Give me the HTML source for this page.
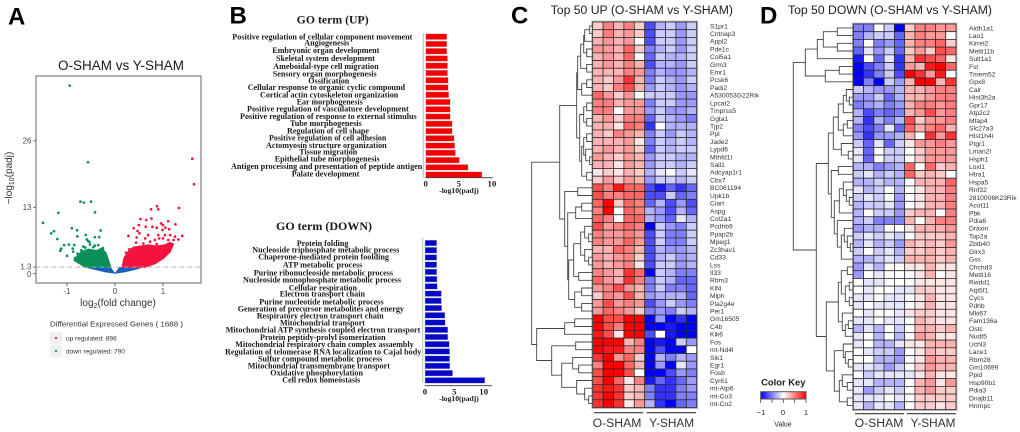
<!DOCTYPE html>
<html><head><meta charset="utf-8"><title>Differential expression figure</title>
<style>
html,body{margin:0;padding:0;background:#fff;width:1020px;height:432px;overflow:hidden}
svg{display:block;filter:blur(0.3px)}
text{font-family:"Liberation Sans",sans-serif}
.go text,.go{font-family:"Liberation Serif",serif;font-weight:bold;font-size:8.8px;fill:#1a1a1a}
.go text{font-family:"Liberation Serif",serif}
.letter{font-weight:bold;font-size:24px;fill:#000}
</style></head><body>
<svg id="fig" xmlns="http://www.w3.org/2000/svg" width="1020" height="432" viewBox="0 0 1020 432">
<defs><linearGradient id="keyGrad" x1="0" x2="1" y1="0" y2="0"><stop offset="0" stop-color="#0000ff"/><stop offset=".5" stop-color="#ffffff"/><stop offset="1" stop-color="#ff0000"/></linearGradient></defs>
<text class="letter" x="8" y="24.5">A</text>
<text class="letter" x="229.5" y="23.5">B</text>
<text class="letter" x="511" y="23.5">C</text>
<text class="letter" x="760" y="23.5">D</text>

<g>
<text x="121" y="70" text-anchor="middle" font-size="13.5" fill="#1a1a1a">O-SHAM vs Y-SHAM</text>
<g id="volcano"></g>
<rect x="36" y="76" width="165" height="207" fill="none" stroke="#666" stroke-width="1"/>
<g id="volcanoAxes"></g>
<text x="118" y="306" text-anchor="middle" font-size="10" fill="#333">log<tspan font-size="7" dy="2">2</tspan><tspan dy="-2">(fold change)</tspan></text>
<text transform="translate(12,178) rotate(-90)" text-anchor="middle" font-size="10" fill="#333">−log<tspan font-size="7" dy="2">10</tspan><tspan dy="-2">(padj)</tspan></text>
<g>
<text x="50" y="326.7" font-size="7.4" fill="#333" textLength="133" lengthAdjust="spacingAndGlyphs">Differential Expressed Genes ( 1688 )</text>
<rect x="50" y="332" width="12" height="12" fill="#f0f0f0"/>
<circle cx="56" cy="338" r="1.1" fill="#f5123c"/>
<text x="66" y="340.7" font-size="6.5" fill="#333">up regulated: 898</text>
<rect x="50" y="345" width="12" height="12" fill="#f0f0f0"/>
<circle cx="56" cy="351" r="1.1" fill="#0b8f5a"/>
<text x="66" y="353.3" font-size="6.5" fill="#333">down regulated: 790</text>
</g>
</g>

<g class="go">
<text x="296.7" y="23.5" textLength="72" lengthAdjust="spacingAndGlyphs" style="font-size:11.5px">GO term (UP)</text>
<g>
<text x="232.3" y="39.4" textLength="180" lengthAdjust="spacingAndGlyphs">Positive regulation of cellular component movement</text>
<text x="304.3" y="45.7" textLength="45" lengthAdjust="spacingAndGlyphs">Angiogenesis</text>
<text x="272.3" y="53" textLength="107" lengthAdjust="spacingAndGlyphs">Embryonic organ development</text>
<text x="276" y="61" textLength="99" lengthAdjust="spacingAndGlyphs">Skeletal system development</text>
<text x="273.3" y="69" textLength="105.3" lengthAdjust="spacingAndGlyphs">Ameboidal-type cell migration</text>
<text x="272.7" y="76.4" textLength="104" lengthAdjust="spacingAndGlyphs">Sensory organ morphogenesis</text>
<text x="308.3" y="83.7" textLength="41" lengthAdjust="spacingAndGlyphs">Ossification</text>
<text x="247.7" y="90" textLength="157.3" lengthAdjust="spacingAndGlyphs">Cellular response to organic cyclic compound</text>
<text x="260" y="97.7" textLength="138.3" lengthAdjust="spacingAndGlyphs">Cortical actin cytoskeleton organization</text>
<text x="296.7" y="104.4" textLength="66" lengthAdjust="spacingAndGlyphs">Ear morphogenesis</text>
<text x="247" y="111.7" textLength="161.7" lengthAdjust="spacingAndGlyphs">Positive regulation of vasculature development</text>
<text x="240" y="119" textLength="176.7" lengthAdjust="spacingAndGlyphs">Positive regulation of response to external stimulus</text>
<text x="290" y="126" textLength="71.7" lengthAdjust="spacingAndGlyphs">Tube morphogenesis</text>
<text x="287" y="133.7" textLength="82" lengthAdjust="spacingAndGlyphs">Regulation of cell shape</text>
<text x="269" y="140.4" textLength="117.3" lengthAdjust="spacingAndGlyphs">Positive regulation of cell adhesion</text>
<text x="266" y="148" textLength="120.7" lengthAdjust="spacingAndGlyphs">Actomyosin structure organization</text>
<text x="299.3" y="154.7" textLength="58" lengthAdjust="spacingAndGlyphs">Tissue migration</text>
<text x="274.7" y="161.7" textLength="105" lengthAdjust="spacingAndGlyphs">Epithelial tube morphogenesis</text>
<text x="231" y="169" textLength="191.3" lengthAdjust="spacingAndGlyphs">Antigen processing and presentation of peptide antigen</text>
<text x="291.7" y="176.4" textLength="67.7" lengthAdjust="spacingAndGlyphs">Palate development</text>
</g>
<g id="goUpBars"></g>
</g>

<g class="go">
<text x="276" y="230" textLength="96" lengthAdjust="spacingAndGlyphs" style="font-size:11.5px">GO term (DOWN)</text>
<g>
<text x="296.7" y="246" textLength="51.7" lengthAdjust="spacingAndGlyphs">Protein folding</text>
<text x="252.3" y="252.4" textLength="147" lengthAdjust="spacingAndGlyphs">Nucleoside triphosphate metabolic process</text>
<text x="258.3" y="259.7" textLength="130.7" lengthAdjust="spacingAndGlyphs">Chaperone-mediated protein foolding</text>
<text x="282.7" y="267.7" textLength="79.7" lengthAdjust="spacingAndGlyphs">ATP metabolic process</text>
<text x="253.7" y="275.4" textLength="139.3" lengthAdjust="spacingAndGlyphs">Purine ribonucleoside metabolic process</text>
<text x="243" y="282.7" textLength="158" lengthAdjust="spacingAndGlyphs">Nucleoside monophosphate metabolic process</text>
<text x="288.7" y="290.4" textLength="68.3" lengthAdjust="spacingAndGlyphs">Cellular respiration</text>
<text x="279.7" y="296.7" textLength="85.3" lengthAdjust="spacingAndGlyphs">Electron transport chain</text>
<text x="259.3" y="304.7" textLength="124.3" lengthAdjust="spacingAndGlyphs">Purine nucleotide metabolic process</text>
<text x="237.7" y="311.4" textLength="166.3" lengthAdjust="spacingAndGlyphs">Generation of precursor metabolites and energy</text>
<text x="256.7" y="318.4" textLength="127" lengthAdjust="spacingAndGlyphs">Respiratory electron transport chain</text>
<text x="280" y="325.7" textLength="85" lengthAdjust="spacingAndGlyphs">Mitochondrial transport</text>
<text x="225.7" y="332.7" textLength="194.7" lengthAdjust="spacingAndGlyphs">Mitochondrial ATP synthesis coupled electron transport</text>
<text x="260" y="340" textLength="125.7" lengthAdjust="spacingAndGlyphs">Protein peptidy-prolyl isomerization</text>
<text x="235.3" y="347" textLength="178.3" lengthAdjust="spacingAndGlyphs">Mitochondrial respiratory chain complex assaembly</text>
<text x="225" y="354.4" textLength="196.3" lengthAdjust="spacingAndGlyphs">Regulation of telomerase RNA localization to Cajal body</text>
<text x="258" y="361.4" textLength="124.3" lengthAdjust="spacingAndGlyphs">Sulfur compound metabolic process</text>
<text x="247.7" y="368.4" textLength="142.3" lengthAdjust="spacingAndGlyphs">Mitochondrial transmembrane transport</text>
<text x="270.3" y="375.4" textLength="92.7" lengthAdjust="spacingAndGlyphs">Oxidative phosphorylation</text>
<text x="282.3" y="382.7" textLength="78" lengthAdjust="spacingAndGlyphs">Cell redox homeostasis</text>
</g>
<g id="goDownBars"></g>
</g>

<g>
<text x="550.7" y="14" font-size="11.5" fill="#222" textLength="182.3" lengthAdjust="spacingAndGlyphs">Top 50 UP (O-SHAM vs Y-SHAM)</text>
<g id="heatC"></g>
<g id="treeC"></g>
<g id="genesC"></g>
<line x1="594" x2="643" y1="412.7" y2="412.7" stroke="#333" stroke-width="1.2"/>
<line x1="646.7" x2="696" y1="412.7" y2="412.7" stroke="#333" stroke-width="1.2"/>
<text x="617" y="427" text-anchor="middle" font-size="12.2" fill="#333">O-SHAM</text>
<text x="671.7" y="427" text-anchor="middle" font-size="11.8" fill="#333">Y-SHAM</text>
</g>

<g>
<text x="788" y="14" font-size="11.5" fill="#222" textLength="204" lengthAdjust="spacingAndGlyphs">Top 50 DOWN (O-SHAM vs Y-SHAM)</text>
<g id="heatD"></g>
<g id="treeD"></g>
<g id="genesD"></g>
<line x1="855" x2="904" y1="413.7" y2="413.7" stroke="#333" stroke-width="1.2"/>
<line x1="906.7" x2="956" y1="413.7" y2="413.7" stroke="#333" stroke-width="1.2"/>
<text x="879" y="427" text-anchor="middle" font-size="12.2" fill="#333">O-SHAM</text>
<text x="933" y="427" text-anchor="middle" font-size="11.8" fill="#333">Y-SHAM</text>
</g>

<g>
<text x="783.3" y="385.7" text-anchor="middle" font-size="9.4" font-weight="bold" fill="#222">Color Key</text>
<rect x="760.7" y="391.7" width="45.3" height="7.3" fill="url(#keyGrad)" stroke="#555" stroke-width="1"/>
<path d="M760.7 399V403M772 399V403M783.3 399V403M794.7 399V403M806 399V403" stroke="#444" stroke-width=".8" fill="none"/>
<text x="761" y="415" text-anchor="middle" font-size="7.5" fill="#222">−1</text>
<text x="783" y="415" text-anchor="middle" font-size="7.5" fill="#222">0</text>
<text x="806" y="415" text-anchor="middle" font-size="7.5" fill="#222">1</text>
<text x="783" y="426.7" text-anchor="middle" font-size="7" fill="#222">Value</text>
</g>
</svg>
<script>
// ---------- data ----------
const goUpValues=[3.2,3.2,3.2,3.3,3.3,3.3,3.4,3.4,3.5,3.7,3.7,3.7,4.0,4.0,4.3,4.4,4.5,5.1,6.4,8.5];
const goDownValues=[2,2,2,2,2,2.05,2.1,2.8,2.8,2.85,3.4,3.45,3.9,3.9,4.15,4.2,4.2,4.25,4.7,10.2];
const goTicks=[0,5,10];
const volcanoXTicks=[-1,0,1];
const volcanoYTicks=[0,1.3,13,26];
const upFc=[1.61,1.645,1.33,.875,.9,.75,.53,.65,.76,.5,.39,.28,.47,.51,.64,.78,.87,.96,1.11,1.26,1.4,1.0,1.05,1.13,.99,.9,1.04,1.15,1.25,1.32,1.22,1.11,1.0,.92,.83,.69,.63,.45,.44,.59,.73,.87,1.15,1.08,.3,.23];
const upP=[22.5,17.5,12.85,13.2,12.6,12.6,10.7,10.5,10.8,9.5,8.9,7.4,8.35,7.9,9.2,9.2,9,9.85,10.25,9.65,7.4,9.5,9,8.7,8.55,7.55,7.55,7.55,7.25,6.7,6.6,6.6,6.9,6.9,6.6,7.55,6.9,7.1,6.07,5.9,6.25,5.8,5.9,5.4,4.76,4.1];
const downFc=[-.944,-.5625,-.72,-.65,-.5,-.417,-1.18,-1.5,-1.33,-1.27,-1.2,-.9,-.79,-.785,-.61,-.3,-.42,-.33,-.59,-.56,-.53,-.85,-.96,-1.06,-1.12,-1.14,-1.0,-.88,-.87,-.66,-.7,-.52,-.42,-.35,-.78,-.62,-.45,-.25,-.83];
const downP=[36.8,21.8,14.1,13.9,14.1,12,11.9,9.95,7.9,8.3,6.8,8.9,8.5,7.3,7.6,8.45,7.15,7.15,6.7,6.4,6.2,5.6,5.7,5.6,4.9,4.5,3.5,4.9,4.3,5.3,4.6,5.7,5.5,5.6,3.9,5.1,5.2,5.0,3.1];
const denseDownFc=[-.854,-.764,-.694,-.556,-.382,-.278,-.188,-.139,-.09,-.625,-.73];
const denseDownP=[2.67,3.65,4.31,4.76,4.5,4.96,4.0,2.67,1.3,1.3,1.93];
const denseUpFc=[.153,.188,.278,.382,.556,.694,.868,1.04,1.146,1.215,1.146,1.007,.833,.625];
const denseUpP=[1.3,3,4.3,5.15,5.4,5.6,5.4,5.6,6.07,5.8,4.3,3,2.0,1.3];
const nsFc=[-.66,-.09,0,.09,.62,.4,.2,0,-.2,-.4];
const nsP=[1.3,1.3,.15,1.3,1.3,.7,.25,0,.25,.7];
const genesUp=["S1pr1","Cntnap3","Appl2","Pde1c","Col5a1","Grm3","Emr1","Pcsk6","Padi2","A530053G22Rik","Lpcat2","Tmprss5","Ggta1","Tjp2","Ppl","Jade2","Lypd6","Mthfd1l","Sall1","Adcyap1r1","Cbx7","BC061194","Upk1b","Ciart","Aspg","Col2a1","Pcdhb9","Ppap2b","Mpeg1","Zc3hav1","Cd33","Lss","Il33","Rbm3","Klf4","Mlph","Pla2g4e","Per1","Gm16505","C4b","Klk6","Fos","mt-Nd4l","Sik1","Egr1","Fosb","Cyr61","mt-Atp6","mt-Co3","mt-Co2"];
const genesDown=["Aldh1a1","Lao1","Kirrel2","Mettl11b","Sult1a1","Fst","Tmem52","Gpx8","Calr","Hist3h2a","Gpr17","Atp2c2","Mfap4","Slc27a3","Hist1h4i","Ptgr1","Lman2l","Hsph1","Loxl1","Htra1","Hspa5","Rnf32","2810006K23Rik","Acot11","Pbk","Pdia6","Draxin","Top2a","Zbtb40","Glrx3","Gss","Chchd3","Mettl16","Rwdd1","Atp5f1","Cycs","Pdhb","Mki67","Fam136a","Ostc","Nudt5","Uchl3","Lace1","Rbm28","Gm10699","Ppid","Hsp90b1","Pdia3","Dnajb11","Hnrnpc"];
// z-scores x10
const heatUp=[
[2,5,3,5,2,-7,-3,-2,-4,-2],[2,5,3,4,2,-7,-2,-2,-4,-2],[3,4,3,4,0,-7,-2,-2,-4,-2],[4,4,3,6,2,-5,-3,-2,-4,-2],[3,4,3,6,0,-6,-2,-3,-3,-2],
[3,4,3,5,3,-7,-3,-3,-4,-2],[3,3,3,5,4,-5,-3,-4,-4,-3],[3,2,4,8,3,-5,-2,-3,-4,-2],[3,2,5,7,3,-4,-2,-3,-4,-3],[6,4,2,4,0,-2,-2,-2,-4,-4],
[5,5,3,4,4,-5,-2,-2,-4,-4],[5,5,0,4,4,-4,-2,-4,-4,-3],[3,4,2,5,5,-6,-2,-3,-4,-5],[3,3,1,6,5,-8,0,-3,-3,-3],[3,2,5,4,3,-5,-2,-4,-2,-3],
[3,3,3,4,1,-5,-2,-3,-2,-3],[3,4,3,4,2,-6,-2,-3,-2,-2],[4,3,2,4,3,-4,-2,-2,-3,-3],[3,3,1,4,3,-4,-2,-2,-3,-2],[1,2,1,3,2,-3,-1,0,-2,-1],
[2,4,2,4,3,-4,-2,-2,-3,-2],[7,5,9,6,6,-7,-9,-6,-8,-6],[7,5,5,6,6,-7,-7,-2,-6,-5],[6,10,2,6,5,-6,-3,-7,-4,-7],[5,10,0,6,5,-3,-4,-7,-3,-6],
[6,5,0,6,6,-3,-4,-6,-1,-3],[7,4,5,6,5,-10,-2,-4,-5,-2],[5,4,4,5,4,-7,-2,-5,-5,-2],[5,4,4,6,4,-7,-2,-5,-5,-2],[3,3,6,5,3,-7,-3,-4,-4,-3],
[4,3,4,5,2,-7,-3,-2,-4,-3],[4,3,4,5,1,-7,-2,-2,-4,-3],[5,4,3,8,6,-10,-2,-3,-5,-5],[6,4,3,8,5,-5,-2,-3,-6,-6],[4,5,7,4,3,-5,-2,-5,-5,-6],
[2,5,4,7,3,-4,-3,-3,-3,-6],[4,7,4,5,4,-7,-4,-2,-4,-5],[4,6,5,4,2,-5,-4,-5,-2,-3],[10,7,7,10,10,-10,-4,-10,-8,-10],[10,7,5,10,10,-10,-10,-9,-10,-10],
[9,7,1,10,10,-7,0,-9,-10,-10],[10,10,10,3,5,-10,-9,-10,-2,-4],[10,9,9,5,5,-10,-7,-10,-10,0],[8,10,4,6,2,-10,-3,-5,-3,-4],[5,10,10,6,3,-10,-4,-10,-1,-4],
[7,10,10,7,0,-10,-10,-7,-4,-5],[7,10,6,1,5,-9,-6,-8,-6,-4],[8,9,8,2,3,-5,-8,-8,-5,-4],[8,10,8,2,3,-5,-8,-8,-5,-5],[8,10,8,1,4,-3,-8,-10,-6,-5]];
const heatDown=[
[-5,-5,0,-2,-10,2,5,5,4,4],[-5,-3,-2,-2,-6,3,5,4,4,0],[-5,0,-5,-4,-6,3,5,5,6,2],[-6,-1,-4,-2,-6,2,4,2,7,6],[-9,0,-6,-1,-8,3,8,7,6,1],
[-10,-7,-5,-2,-8,4,3,9,10,6],[-10,-8,-5,-2,-7,10,8,4,9,0],[-10,-5,-10,-2,-4,3,10,10,3,8],[-2,-3,-4,-4,-3,3,3,4,5,5],[-4,-4,-2,-6,-3,3,3,4,5,5],
[-5,-4,-3,-5,-4,3,5,5,4,5],[-3,-7,-5,-6,-5,3,4,7,4,5],[-3,-8,-3,-5,-3,7,2,4,4,5],[-5,-7,-5,-1,-6,6,3,5,6,3],[-4,-8,-4,-4,-3,3,0,8,4,8],
[-2,-6,-1,-6,-2,1,4,4,5,4],[-1,-6,0,-2,-2,0,2,4,4,4],[-1,-6,0,-2,-2,0,2,4,4,4],[-3,-3,-5,-4,-3,6,0,6,2,3],[-2,-1,-3,-2,-3,6,2,3,2,0],
[-3,-3,-2,-3,-3,0,3,3,3,6],[-1,-3,-2,0,-3,0,1,3,3,5],[-2,-1,-2,0,-4,0,1,3,3,5],[-3,-2,-2,-1,-4,0,1,3,3,5],[-3,0,-2,-2,-4,2,3,3,0,5],
[-3,-2,-5,-5,-5,3,0,3,5,5],[-4,-3,-3,0,0,1,3,3,3,4],[-2,-1,-2,-1,-2,0,2,2,2,3],[-3,-1,-3,-2,-4,3,2,3,2,4],[-2,0,-2,-1,-3,2,2,3,2,3],
[-3,-3,-2,-1,-2,3,3,3,2,3],[-4,-1,-3,0,0,1,1,3,1,1],[-4,0,-1,0,0,0,1,3,0,1],[0,-1,-1,0,0,0,1,1,1,1],[0,-1,0,0,-1,-1,2,2,1,1],
[-1,-1,0,-1,-1,0,1,3,1,1],[-1,0,-1,-1,-1,0,1,3,1,1],[0,-1,0,0,-1,1,2,2,1,1],[-1,-1,0,-1,-1,0,3,2,1,1],[-3,-1,-3,0,-2,0,3,3,2,3],
[-1,0,-3,0,-3,0,4,3,1,1],[-1,0,-3,-3,-1,1,1,3,3,3],[0,-1,-2,-2,-4,0,1,3,2,2],[0,0,-3,-3,-4,0,1,4,3,3],[-1,-1,-2,-4,-2,0,2,4,3,3],
[0,-2,-1,-1,-1,-1,1,3,1,1],[-1,-1,-3,-3,-3,0,3,4,1,4],[-1,-4,-2,-1,-2,0,3,4,2,2],[-1,-1,-1,0,-1,0,2,2,2,2],[-1,-3,-1,-1,-3,0,2,2,1,2]];
// dendrograms: [height, child, child]; 0 = next leaf
const treeUp=[61,[33,[16,[15,[12,[9,[8,[3,0,0],0],[6,0,0]],[6,0,0]],[11,[6,0,0],0]],[13,[9,[6,0,0],[6,0,0]],[11,[9,[6,0,0],[7,0,[3,0,0]]],[6,0,0]]]],[28,[15,0,0],[25,[17,[11,0,0],0],[24,[19,[12,[8,0,[4,0,0]],[8,0,[4,0,0]]],[14,0,0]],[18,[11,0,0],[11,0,0]]]]]],[56,[28,[18,0,0],0],[41,[17,0,0],[31,[20,0,[14,0,0]],[16,0,[8,0,[4,0,0]]]]]]];
const treeDown=[60,[48,[36,[30,[16,0,0],[16,0,0]],0],[28,[14,0,0],0]],[37,[25,[20,[15,[10,[7,0,[4,0,0]],0],[10,[6,0,0],0]],[12,0,[5,0,0]]],[22,[15,0,0],[19,[14,[10,0,[7,0,[4,0,0]]],0],[16,0,[12,[9,0,[6,0,[3,0,0]]],0]]]]],[27,[15,[12,[6,0,0],[8,[4,0,0],[4,0,0]]],[11,0,[8,[5,0,0],0]]],[19,[10,0,[8,0,[5,0,0]]],[14,[11,0,[6,0,0]],[6,0,0]]]]]];

// ---------- helpers ----------
const NS='http://www.w3.org/2000/svg';
function mk(tag,attrs,parent){const e=document.createElementNS(NS,tag);for(const k in attrs)e.setAttribute(k,attrs[k]);parent.appendChild(e);return e;}
const $=id=>document.getElementById(id);

// ---------- volcano ----------
const vx=v=>115+48*v;
const vy=v=>273.7-5.11*v;
function areaPts(fc,p){return fc.map((f,i)=>vx(f).toFixed(1)+','+vy(p[i]).toFixed(1)).join(' ');}
const vol=$('volcano');
const nsArea=mk('polygon',{points:areaPts(nsFc,nsP),fill:'#1a5fc0'},vol);


const dnArea=mk('polygon',{points:areaPts(denseDownFc,denseDownP),fill:'#0b8f5a',stroke:'#0b8f5a','stroke-width':1.5,'stroke-linejoin':'round'},vol);


const upArea=mk('polygon',{points:areaPts(denseUpFc,denseUpP),fill:'#f5123c',stroke:'#f5123c','stroke-width':1.5,'stroke-linejoin':'round'},vol);


downFc.forEach((f,i)=>{
  const c=mk('circle',{cx:vx(f),cy:vy(downP[i]),r:1.35,fill:'#0b8f5a'},vol);
  
  
});
upFc.forEach((f,i)=>{
  const c=mk('circle',{cx:vx(f),cy:vy(upP[i]),r:1.35,fill:'#f5123c'},vol);
  
  
});
const thr=mk('line',{x1:36,x2:201,y1:vy(1.3),y2:vy(1.3),stroke:'#aaa','stroke-width':.8,'stroke-dasharray':'4 1.5 1 1.5'},vol);


const vAx=$('volcanoAxes');
volcanoXTicks.forEach(t=>{
  const l=mk('line',{x1:vx(t),x2:vx(t),y1:283,y2:286,stroke:'#555','stroke-width':.8},vAx);
  
  
  const s=mk('text',{x:vx(t),y:294,'text-anchor':'middle','font-size':8,fill:'#4d4d4d'},vAx);
  s.textContent=t<0?'-'+Math.abs(t):t;
  
  
});
volcanoYTicks.forEach(t=>{
  const l=mk('line',{x1:33,x2:36,y1:vy(t),y2:vy(t),stroke:'#555','stroke-width':.8},vAx);
  
  
  const s=mk('text',{x:31.5,y:vy(t)+2.8+(t===0?.6:t===1.3?-.6:0),'text-anchor':'end','font-size':8,fill:'#4d4d4d'},vAx);
  s.textContent=t;
  
  
});

// ---------- GO bars ----------
function goChart(root,vals,y0,step,x0,scale,color,axisX,axisTop,axisBot,xAxisY){
  mk('line',{x1:axisX,x2:axisX,y1:axisTop,y2:axisBot,stroke:'#bbb','stroke-width':1},root);
  vals.forEach((v,i)=>{
    const r=mk('rect',{x:x0,y:y0+i*step-2.9,width:v*scale,height:5.8,fill:color,stroke:'#c8c8c8','stroke-width':.4},root);
    
    
  });
  const ax=mk('line',{x1:x0-.5,x2:x0+67,y1:xAxisY,y2:xAxisY,stroke:'#333','stroke-width':.9},root);
  
  
  goTicks.forEach(t=>{
    const s=mk('text',{x:x0+t*scale,y:xAxisY+9,'text-anchor':'middle'},root);
    s.textContent=t;
    
    
  });
  const tt=mk('text',{x:459,y:xAxisY+15.5,'text-anchor':'middle',style:'font-size:7.6px'},root);
  tt.textContent='-log10(padj)';
  
  
}
goChart($('goUpBars'),goUpValues,36.7,7.26,425.7,6.62,'#f40000',423.3,33,178,177.7);
goChart($('goDownBars'),goDownValues,243,7.23,425,5.87,'#0707c8',422.7,238,383,385.7);

// ---------- heatmaps ----------
function color(v){
  const t=Math.min(1,Math.abs(v/10));
  const c=Math.round(255*(1-t));
  return v>=0?`rgb(255,${c},${c})`:`rgb(${c},${c},255)`;
}
function heat(root,matrix,x0,y0,cw,rh){
  mk('rect',{x:x0-.5,y:y0-.5,width:cw*10+1,height:rh*50+1,fill:'none',stroke:'#aaa','stroke-width':1.6},root);
  matrix.forEach((row,r)=>row.forEach((v,c)=>{
    const el=mk('rect',{x:x0+c*cw,y:y0+r*rh,width:cw,height:rh,fill:color(v),stroke:'#2a2a2a','stroke-width':.75},root);
    
    
  }));
}
function genes(root,names,x,y0,rh){
  names.forEach((n,i)=>{
    const t=mk('text',{x:x,y:y0+i*rh+rh/2+2.4,'font-size':6.7,fill:'#333'},root);
    t.textContent=n;
    
    
  });
}
function tree(root,node,xLeaf,y0,rh){
  let leaf=0,d='';
  function walk(n){
    if(!Array.isArray(n)){const y=y0+(leaf++ +.5)*rh;return {x:xLeaf,y:y};}
    const x=xLeaf-n[0];
    const a=walk(n[1]),b=walk(n[2]);
    d+=`M${a.x} ${a.y.toFixed(1)}H${x}V${b.y.toFixed(1)}H${b.x}`;
    return {x:x,y:(a.y+b.y)/2};
  }
  walk(node);
  const p=mk('path',{d:d,fill:'none',stroke:'#444','stroke-width':.9},root);
  
  
}
heat($('heatC'),heatUp,592.7,22,10.4,7.71);
heat($('heatD'),heatDown,853.3,24,10.27,7.71);
genes($('genesC'),genesUp,710,22,7.71);
genes($('genesD'),genesDown,969,24,7.71);
tree($('treeC'),treeUp,592.7,22,7.71);
tree($('treeD'),treeDown,853.3,24,7.71);
</script>
</body></html>
